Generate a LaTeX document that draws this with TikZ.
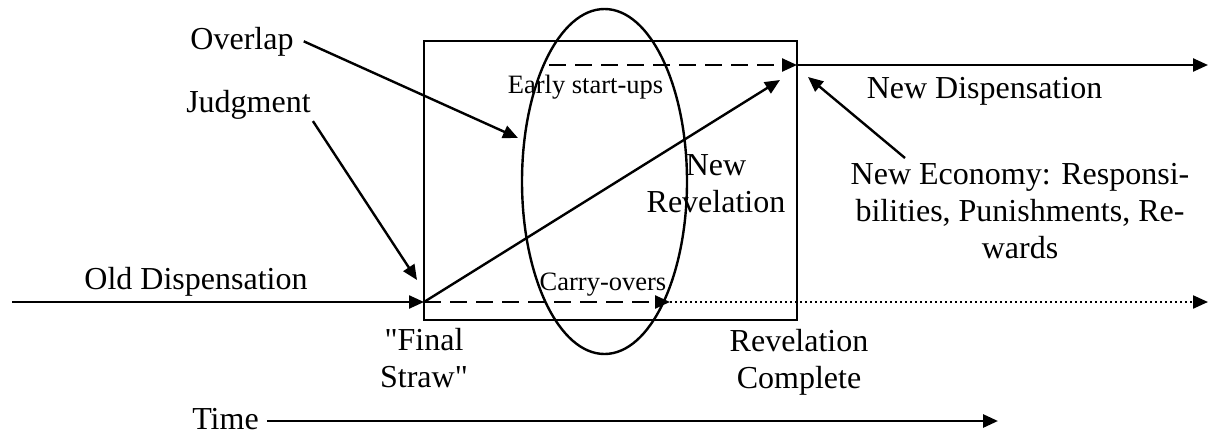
\documentclass[tikz,border=0pt]{standalone}
\usepackage{fontspec}
\setmainfont{Liberation Serif}[Ligatures=TeXOff]
\usetikzlibrary{arrows.meta,shapes.geometric}
\begin{document}
\begin{tikzpicture}[x=1pt,y=-1pt,
  lbl/.style={font=\fontsize{32}{37}\selectfont, inner sep=2pt, align=center},
  slbl/.style={font=\fontsize{26.5}{30}\selectfont, inner sep=1pt},
  ln/.style={line width=2.4pt},
  arr/.style={ln, -{Triangle[length=15pt,width=13pt]}},
  dsh/.style={dash pattern=on 17pt off 9pt},
  dotln/.style={line width=2.2pt, dash pattern=on 2pt off 3pt}]
\useasboundingbox (0,0) rectangle (1209,434);

% frame and overlap ellipse
\node[draw, ln, minimum width=373pt, minimum height=279pt, inner sep=0pt] (box) at (610.5,180.5) {};
\node[draw, ln, ellipse, minimum width=165pt, minimum height=345pt, inner sep=0pt] (ell) at (604.5,181.5) {};

% coordinates
\coordinate (oldS) at (12,302);
\coordinate (fs) at (424,302);
\coordinate (co) at (670,302);
\coordinate (dotE) at (1208,302);
\coordinate (es) at (549,65);
\coordinate (rc) at (797,65);
\coordinate (ndE) at (1208,65);
\coordinate (diagT) at (780,80);
\coordinate (ovT) at (518,138);
\coordinate (judT) at (417,280);
\coordinate (neS) at (905,158);
\coordinate (neT) at (808,77);
\coordinate (tE) at (998,421);

% labels
\node[lbl, anchor=base] (overlap) at (242,49) {Overlap};
\node[lbl, anchor=base] (judgment) at (248.5,112) {Judgment};
\node[lbl, anchor=base] (oldd) at (196,289) {Old Dispensation};
\node[lbl, anchor=base] (newd) at (984.5,98) {New Dispensation};
\node[slbl, anchor=base] (early) at (585.5,93) {Early start-ups};
\node[slbl, anchor=base] (carry) at (603,290) {Carry-overs};
\node[lbl] (newrev) at (716,184) {New\\Revelation};
\node[lbl] (neweco) at (1020,211) {New Economy: Responsi-\\bilities, Punishments, Re-\\wards};
\node[lbl] (final) at (424,358.5) {"Final\\Straw"};
\node[lbl] (revc) at (799,362) {Revelation\\Complete};
\node[lbl, anchor=base] (time) at (225.5,429) {Time};

% connectors
\draw[arr] (oldS) -- (fs);
\draw[arr, dsh] (fs) -- (co);
\draw[arr, dotln] (co) -- (dotE);
\draw[arr] (fs) -- (diagT);
\draw[arr, dsh] (es) -- (rc);
\draw[arr] (rc) -- (ndE);
\draw[arr] ([xshift=8pt]overlap.east) -- (ovT);
\draw[arr] (judgment.south east) -- (judT);
\draw[arr] (neS) -- (neT);
\draw[arr, line width=2.8pt] ([xshift=6pt]time.east |- tE) -- (tE);
\end{tikzpicture}
\end{document}
